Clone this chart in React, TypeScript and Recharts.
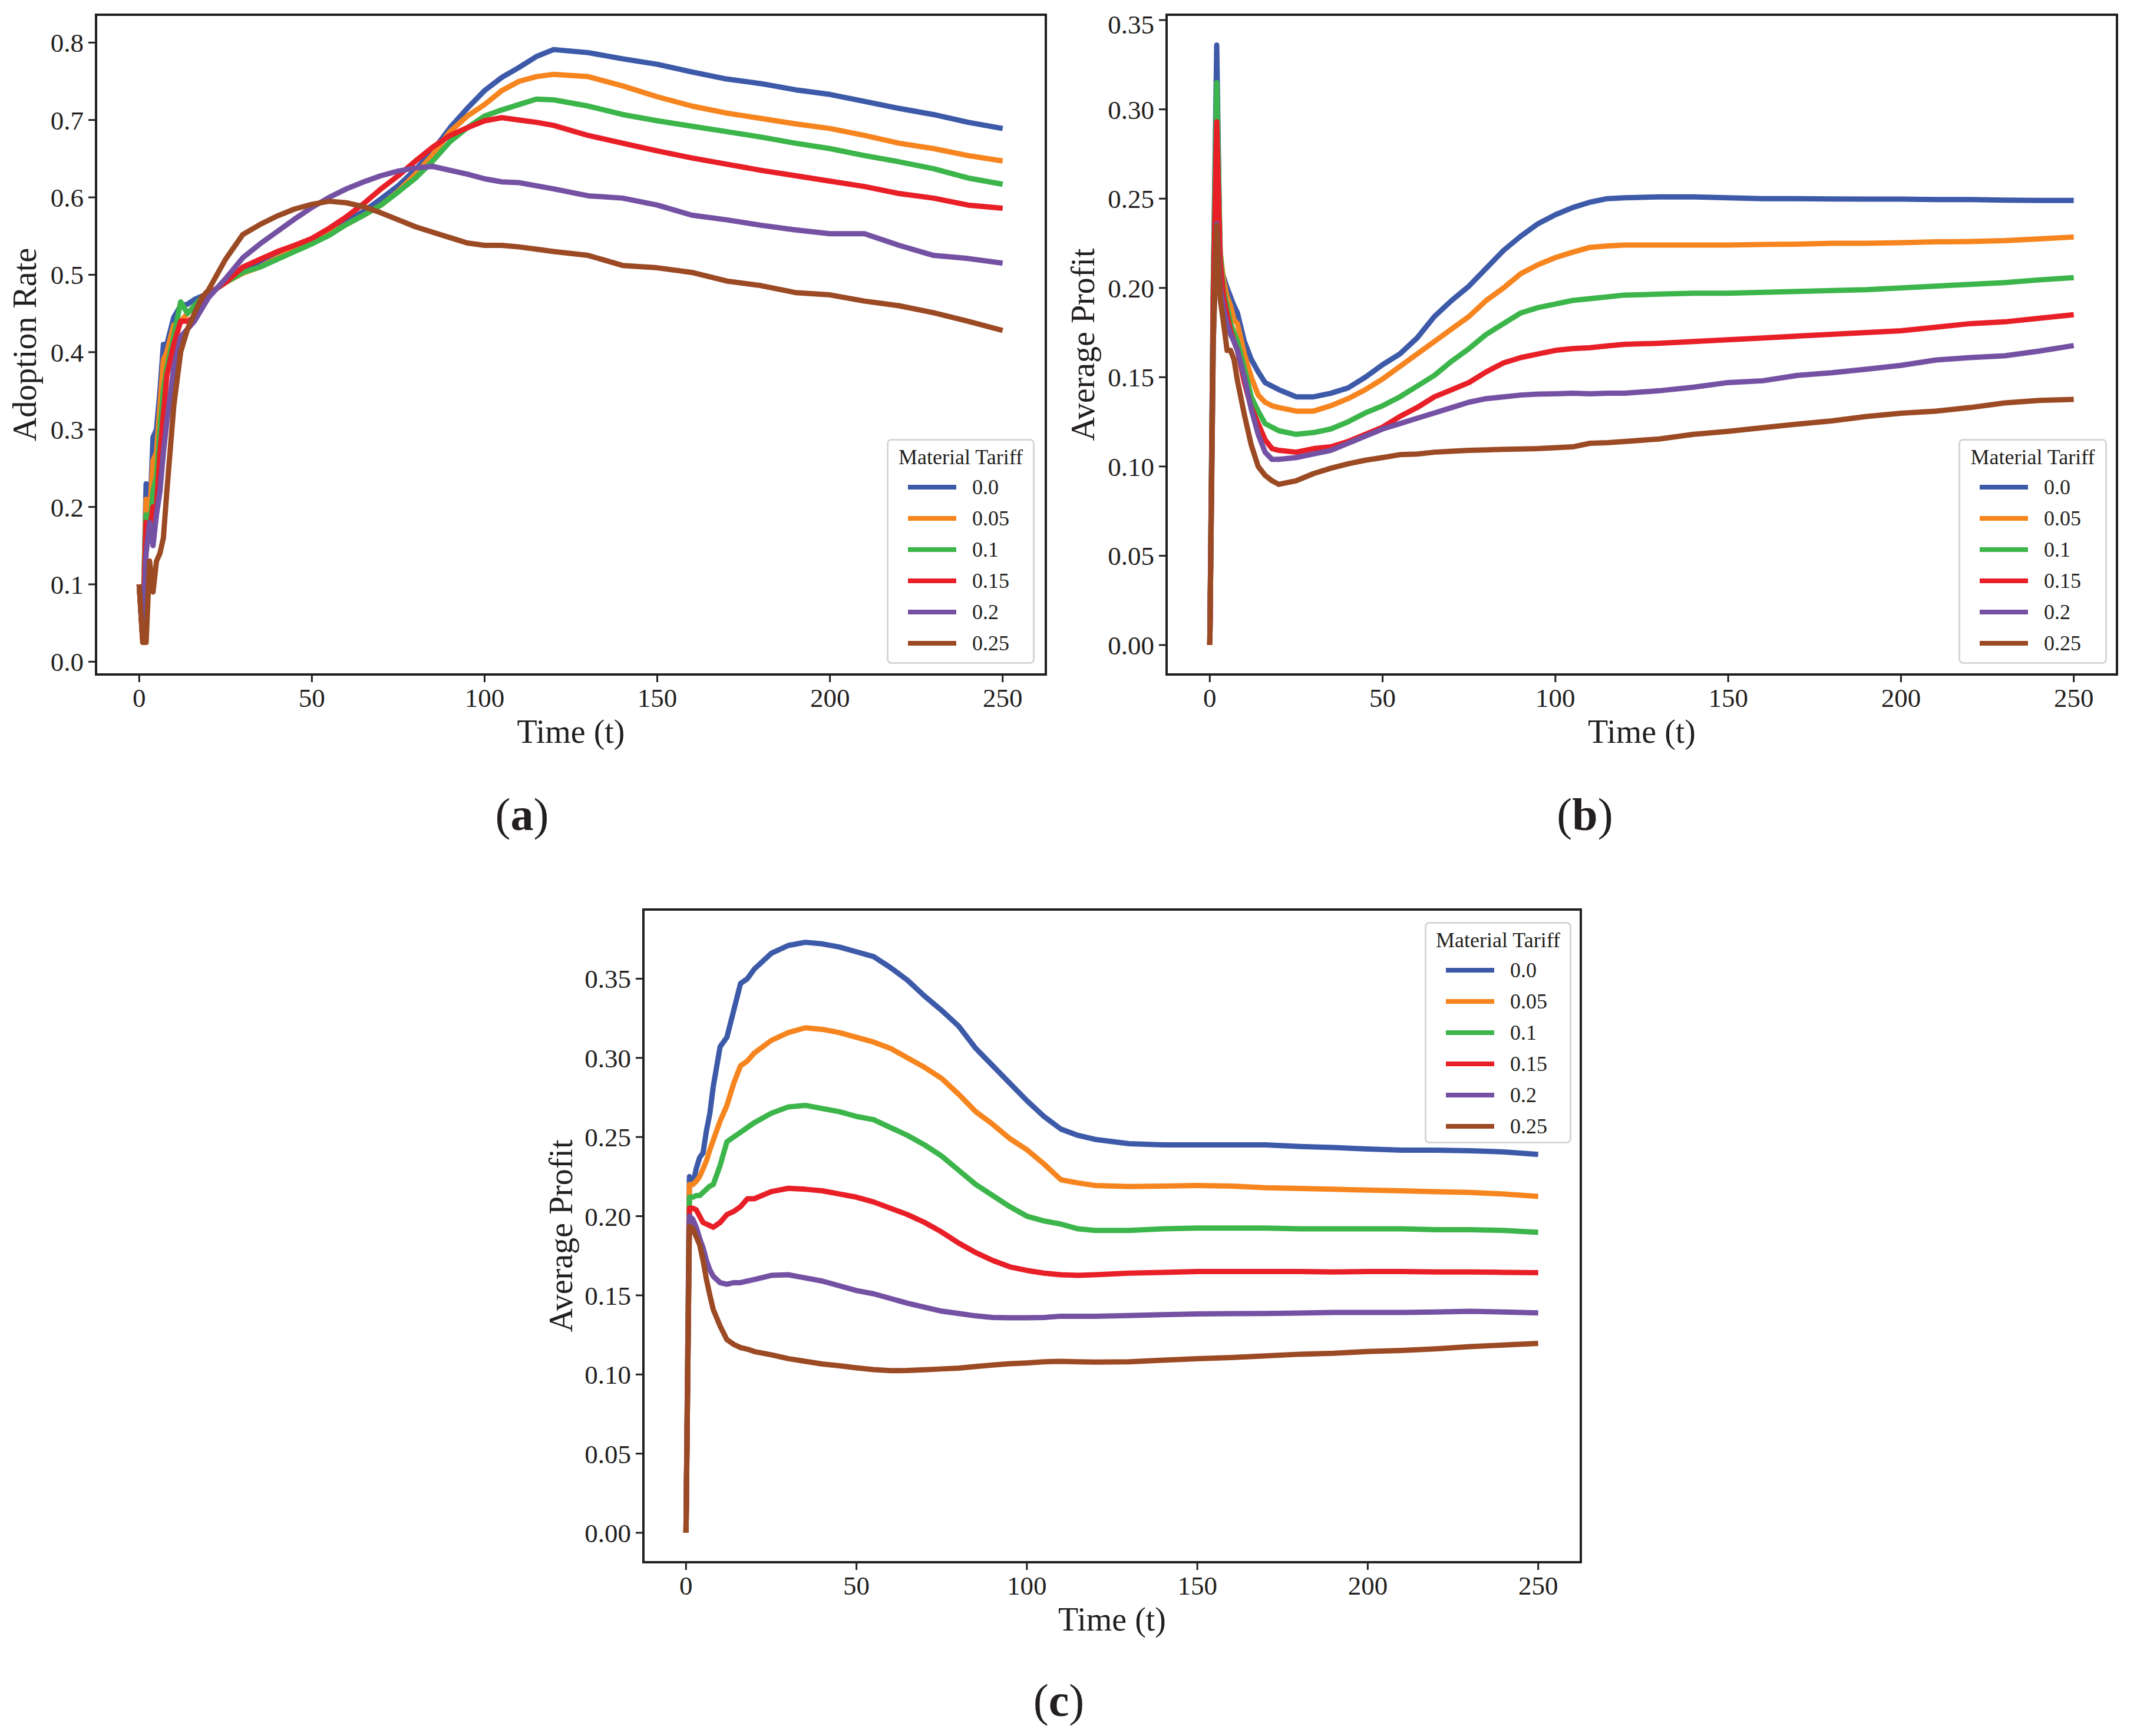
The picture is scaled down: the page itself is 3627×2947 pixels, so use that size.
import { LineChart, Line, XAxis, YAxis, ReferenceArea, Legend } from 'recharts';

// shared time grid (t) used by all three panels
const TIME = [
  0, 1, 2, 3, 4, 5, 6, 7, 8, 10, 12, 14, 16, 18, 20, 25, 30, 35, 40, 45, 50, 55, 60, 65, 70, 75, 80, 85, 90, 95,
  100, 105, 110, 115, 120, 130, 140, 150, 160, 170, 180, 190, 200, 210, 220, 230, 240, 250,
];

const TARIFFS = ['0.0', '0.05', '0.1', '0.15', '0.2', '0.25'];
const COLORS = ['#3d5aa9', '#f7851f', '#3cb54a', '#e81f27', '#7451a3', '#9b4a24'];

const X_TICKS = [0, 50, 100, 150, 200, 250];
const ADOPTION_TICKS = [0, 0.1, 0.2, 0.3, 0.4, 0.5, 0.6, 0.7, 0.8];
const PROFIT_TICKS = [0, 0.05, 0.1, 0.15, 0.2, 0.25, 0.3, 0.35];

// (a) adoption rate
const adoption00 = [
  0.1, 0.03, 0.23, 0.18, 0.29, 0.3, 0.35, 0.41, 0.41, 0.445, 0.46, 0.462, 0.468, 0.472, 0.475, 0.49, 0.505, 0.515,
  0.528, 0.537, 0.546, 0.556, 0.569, 0.582, 0.598, 0.615, 0.636, 0.66, 0.69, 0.715, 0.738, 0.755, 0.768, 0.782, 0.791,
  0.787, 0.779, 0.772, 0.762, 0.753, 0.747, 0.739, 0.733, 0.724, 0.715, 0.707, 0.697, 0.689,
];
const adoption05 = [
  0.1, 0.03, 0.21, 0.19, 0.26, 0.27, 0.33, 0.39, 0.4, 0.435, 0.44, 0.45, 0.46, 0.468, 0.475, 0.49, 0.502, 0.51, 0.522,
  0.532, 0.542, 0.553, 0.565, 0.577, 0.59, 0.608, 0.63, 0.655, 0.685, 0.705, 0.72, 0.738, 0.75, 0.756, 0.759, 0.756,
  0.744, 0.73, 0.718, 0.709, 0.702, 0.695, 0.689, 0.68, 0.67, 0.663, 0.654, 0.647,
];
const adoption10 = [
  0.1, 0.03, 0.19, 0.17, 0.22, 0.24, 0.3, 0.35, 0.38, 0.42, 0.465, 0.45, 0.46, 0.47, 0.475, 0.49, 0.503, 0.51, 0.52,
  0.53, 0.54, 0.551, 0.565, 0.577, 0.59, 0.607, 0.625, 0.647, 0.672, 0.69, 0.705, 0.713, 0.72, 0.727, 0.726, 0.718,
  0.707, 0.699, 0.692, 0.685, 0.678, 0.67, 0.663, 0.654, 0.646, 0.637, 0.625, 0.617,
];
const adoption15 = [
  0.1, 0.03, 0.18, 0.17, 0.2, 0.2, 0.27, 0.32, 0.37, 0.41, 0.44, 0.44, 0.445, 0.46, 0.475, 0.49, 0.51, 0.52, 0.53,
  0.538, 0.547, 0.56, 0.575, 0.592, 0.611, 0.628, 0.647, 0.665, 0.68, 0.69, 0.699, 0.703, 0.7, 0.697, 0.693, 0.68,
  0.67, 0.66, 0.651, 0.643, 0.635, 0.628, 0.621, 0.614, 0.605, 0.599, 0.59, 0.586,
];
const adoption20 = [
  0.1, 0.03, 0.14, 0.18, 0.15, 0.19, 0.22, 0.27, 0.31, 0.38, 0.42, 0.43, 0.44, 0.455, 0.47, 0.495, 0.522, 0.54, 0.556,
  0.572, 0.587, 0.6, 0.611, 0.62, 0.628, 0.634, 0.638, 0.64, 0.635, 0.63, 0.624, 0.62, 0.619, 0.615, 0.611, 0.602,
  0.599, 0.59, 0.577, 0.571, 0.564, 0.558, 0.553, 0.553, 0.538, 0.525, 0.521, 0.515,
];
const adoption25 = [
  0.1, 0.025, 0.025, 0.13, 0.09, 0.13, 0.14, 0.16, 0.22, 0.33, 0.4, 0.43, 0.45, 0.47, 0.48, 0.52, 0.552, 0.565, 0.576,
  0.585, 0.591, 0.595, 0.593, 0.588, 0.58, 0.571, 0.562, 0.555, 0.548, 0.541, 0.538, 0.538, 0.536, 0.533, 0.53, 0.525,
  0.512, 0.509, 0.503, 0.492, 0.486, 0.477, 0.474, 0.466, 0.46, 0.451, 0.44, 0.428,
];

// (b) average profit
const profitB00 = [
  0, 0.2, 0.336, 0.21, 0.206, 0.2, 0.195, 0.19, 0.186, 0.17, 0.16, 0.153, 0.147, 0.145, 0.143, 0.139, 0.139, 0.141,
  0.144, 0.15, 0.157, 0.163, 0.172, 0.184, 0.193, 0.201, 0.211, 0.221, 0.229, 0.236, 0.241, 0.245, 0.248, 0.25, 0.2505,
  0.251, 0.251, 0.2505, 0.25, 0.25, 0.2498, 0.2497, 0.2497, 0.2495, 0.2495, 0.2492, 0.249, 0.249,
];
const profitB05 = [
  0, 0.18, 0.29, 0.22, 0.204, 0.195, 0.19, 0.182, 0.18, 0.163, 0.15, 0.14, 0.136, 0.134, 0.133, 0.131, 0.131, 0.134,
  0.138, 0.143, 0.149, 0.156, 0.163, 0.17, 0.177, 0.184, 0.193, 0.2, 0.208, 0.213, 0.217, 0.22, 0.2227, 0.2235, 0.224,
  0.224, 0.224, 0.224, 0.2243, 0.2245, 0.225, 0.225, 0.2253, 0.2258, 0.226, 0.2265, 0.2275, 0.2285,
];
const profitB10 = [
  0, 0.2, 0.315, 0.22, 0.198, 0.19, 0.18, 0.175, 0.17, 0.155, 0.139, 0.131, 0.124, 0.122, 0.12, 0.118, 0.119, 0.121,
  0.125, 0.13, 0.134, 0.139, 0.145, 0.151, 0.159, 0.166, 0.174, 0.18, 0.186, 0.189, 0.191, 0.193, 0.194, 0.195, 0.196,
  0.1965, 0.197, 0.197, 0.1975, 0.198, 0.1985, 0.199, 0.2, 0.201, 0.202, 0.203, 0.2045, 0.2058,
];
const profitB15 = [
  0, 0.19, 0.293, 0.215, 0.195, 0.185, 0.176, 0.17, 0.165, 0.147, 0.133, 0.124, 0.115, 0.11, 0.109, 0.108, 0.11, 0.111,
  0.114, 0.118, 0.122, 0.128, 0.133, 0.139, 0.143, 0.147, 0.153, 0.158, 0.161, 0.163, 0.165, 0.166, 0.1665, 0.1675,
  0.1684, 0.169, 0.17, 0.171, 0.172, 0.173, 0.174, 0.175, 0.176, 0.178, 0.18, 0.181, 0.183, 0.185,
];
const profitB20 = [
  0, 0.17, 0.236, 0.2, 0.188, 0.18, 0.174, 0.17, 0.165, 0.15, 0.132, 0.118, 0.108, 0.104, 0.104, 0.105, 0.107, 0.109,
  0.113, 0.117, 0.121, 0.124, 0.127, 0.13, 0.133, 0.136, 0.138, 0.139, 0.14, 0.1405, 0.1407, 0.141, 0.1407, 0.141,
  0.141, 0.1424, 0.1444, 0.147, 0.148, 0.151, 0.1525, 0.1545, 0.1566, 0.1596, 0.161, 0.162, 0.1646, 0.1677,
];
const profitB25 = [
  0, 0.17, 0.235, 0.194, 0.18, 0.165, 0.165, 0.16, 0.148, 0.129, 0.112, 0.1, 0.095, 0.092, 0.09, 0.092, 0.096, 0.099,
  0.1015, 0.1035, 0.105, 0.1066, 0.107, 0.108, 0.1085, 0.109, 0.1093, 0.1096, 0.1098, 0.11, 0.1105, 0.111, 0.113,
  0.1133, 0.114, 0.1154, 0.118, 0.1197, 0.1217, 0.1237, 0.1255, 0.128, 0.1298, 0.131, 0.133, 0.1356, 0.137, 0.1376,
];

// (c) average profit
const profitC00 = [
  0, 0.225, 0.22, 0.23, 0.237, 0.24, 0.254, 0.265, 0.282, 0.307, 0.313, 0.33, 0.347, 0.35, 0.356, 0.366, 0.371, 0.373,
  0.372, 0.37, 0.367, 0.364, 0.357, 0.349, 0.339, 0.33, 0.32, 0.306, 0.295, 0.284, 0.273, 0.263, 0.255, 0.251, 0.2485,
  0.2458, 0.245, 0.245, 0.245, 0.245, 0.244, 0.2434, 0.2424, 0.2417, 0.2417, 0.2413, 0.2406, 0.239,
];
const profitC05 = [
  0, 0.22, 0.22, 0.222, 0.225, 0.23, 0.235, 0.242, 0.248, 0.26, 0.27, 0.284, 0.295, 0.298, 0.303, 0.311, 0.316, 0.319,
  0.318, 0.316, 0.313, 0.31, 0.306, 0.3, 0.294, 0.287, 0.277, 0.266, 0.258, 0.249, 0.242, 0.233, 0.223, 0.221, 0.2194,
  0.2187, 0.219, 0.2194, 0.219, 0.218, 0.2175, 0.217, 0.2165, 0.216, 0.2155, 0.215, 0.214, 0.2125,
];
const profitC10 = [
  0, 0.212, 0.212, 0.213, 0.213, 0.215, 0.217, 0.219, 0.22, 0.232, 0.247, 0.25, 0.253, 0.256, 0.259, 0.265, 0.269, 0.27,
  0.268, 0.266, 0.263, 0.261, 0.256, 0.251, 0.245, 0.238, 0.229, 0.22, 0.213, 0.206, 0.2, 0.197, 0.195, 0.192, 0.191,
  0.191, 0.192, 0.1925, 0.1925, 0.1925, 0.192, 0.192, 0.192, 0.192, 0.1915, 0.1915, 0.191, 0.1898,
];
const profitC15 = [
  0, 0.205, 0.205, 0.204, 0.2, 0.196, 0.195, 0.194, 0.193, 0.196, 0.201, 0.203, 0.206, 0.211, 0.211, 0.2155, 0.2176,
  0.217, 0.216, 0.214, 0.212, 0.209, 0.205, 0.201, 0.196, 0.19, 0.183, 0.177, 0.172, 0.168, 0.1657, 0.164, 0.163,
  0.1626, 0.163, 0.164, 0.1645, 0.165, 0.165, 0.165, 0.165, 0.1648, 0.165, 0.165, 0.1648, 0.1648, 0.1645, 0.1643,
];
const profitC20 = [
  0, 0.2, 0.198, 0.193, 0.186, 0.18, 0.172, 0.166, 0.162, 0.158, 0.157, 0.158, 0.158, 0.159, 0.16, 0.1626, 0.163, 0.161,
  0.159, 0.156, 0.153, 0.151, 0.148, 0.145, 0.1425, 0.14, 0.1385, 0.137, 0.136, 0.1358, 0.1358, 0.136, 0.1368, 0.1368,
  0.1368, 0.1372, 0.1378, 0.1382, 0.1384, 0.1385, 0.1388, 0.1392, 0.1392, 0.1392, 0.1395, 0.1399, 0.1395, 0.1389,
];
const profitC25 = [
  0, 0.1935, 0.192, 0.187, 0.182, 0.172, 0.16, 0.15, 0.141, 0.1306, 0.122, 0.119, 0.117, 0.116, 0.1145, 0.1124, 0.11,
  0.1083, 0.1066, 0.1055, 0.1042, 0.1031, 0.1024, 0.1025, 0.103, 0.1035, 0.104, 0.105, 0.106, 0.1068, 0.1073, 0.108,
  0.1083, 0.108, 0.1078, 0.108, 0.109, 0.11, 0.1107, 0.1117, 0.1128, 0.1134, 0.1145, 0.1152, 0.1162, 0.1176, 0.1186,
  0.1196,
];

const INK = '#231f20';
const FONT = "'Liberation Serif', 'Times New Roman', serif";
const X_DOMAIN: [number, number] = [-12.5, 262.5];
const MT = 10;
const MR = 12;
const XH = 140;

function buildRows(series: number[][]) {
  return TIME.map((t, i) => {
    const row: Record<string, number> = { t };
    series.forEach((s, k) => {
      row[`s${k}`] = s[i];
    });
    return row;
  });
}

function LegendBox({ width, height }: { width: number; height: number }) {
  return (
    <div
      style={{
        boxSizing: 'border-box',
        width,
        height,
        border: '3px solid #d6d6d6',
        borderRadius: 8,
        background: 'rgba(255,255,255,0.85)',
        fontFamily: FONT,
        color: INK,
      }}
    >
      <div style={{ height: 52, lineHeight: '56px', fontSize: 36, textAlign: 'center' }}>Material Tariff</div>
      {TARIFFS.map((label, i) => (
        <div key={label} style={{ height: 53, display: 'flex', alignItems: 'center', paddingLeft: 33 }}>
          <div style={{ width: 82, height: 8, background: COLORS[i] }} />
          <div style={{ marginLeft: 27, fontSize: 36, lineHeight: '36px' }}>{label}</div>
        </div>
      ))}
    </div>
  );
}

interface PanelProps {
  plotX: number;
  plotY: number;
  plotW: number;
  plotH: number;
  yAxisW: number;
  data: Record<string, number>[];
  yDomain: [number, number];
  yTicks: number[];
  yDigits: number;
  yLabel: string;
  legend: { x: number; y: number; w: number; h: number };
}

function Panel({ plotX, plotY, plotW, plotH, yAxisW, data, yDomain, yTicks, yDigits, yLabel, legend }: PanelProps) {
  const left = plotX - yAxisW;
  const top = plotY - MT;
  const tickStyle = { fontSize: 45, fill: INK, fontFamily: FONT };
  return (
    <div style={{ position: 'absolute', left, top }}>
      <LineChart
        width={yAxisW + plotW + MR}
        height={MT + plotH + XH}
        data={data}
        margin={{ top: MT, right: MR, left: 0, bottom: 0 }}
      >
        <XAxis
          dataKey='t'
          type='number'
          domain={X_DOMAIN}
          ticks={X_TICKS}
          allowDataOverflow
          axisLine={false}
          tickSize={13}
          tickMargin={10}
          tickLine={{ stroke: INK, strokeWidth: 3 }}
          tick={tickStyle}
          height={XH}
          label={{
            value: 'Time (t)',
            position: 'insideBottom',
            offset: XH - 116,
            fontSize: 56,
            fill: INK,
            fontFamily: FONT,
          }}
        />
        <YAxis
          type='number'
          domain={yDomain}
          ticks={yTicks}
          allowDataOverflow
          axisLine={false}
          tickSize={13}
          tickMargin={8}
          tickLine={{ stroke: INK, strokeWidth: 3 }}
          tick={tickStyle}
          tickFormatter={(v: number) => v.toFixed(yDigits)}
          width={yAxisW}
          label={{
            value: yLabel,
            position: 'center',
            angle: -90,
            fontSize: 56,
            fill: INK,
            fontFamily: FONT,
          }}
        />
        {TARIFFS.map((label, i) => (
          <Line
            key={label}
            type='linear'
            dataKey={`s${i}`}
            name={label}
            stroke={COLORS[i]}
            strokeWidth={9}
            strokeLinejoin='round'
            dot={false}
            activeDot={false}
            isAnimationActive={false}
          />
        ))}
        <ReferenceArea
          x1={X_DOMAIN[0]}
          x2={X_DOMAIN[1]}
          y1={yDomain[0]}
          y2={yDomain[1]}
          fill='none'
          stroke={INK}
          strokeWidth={4}
          ifOverflow='visible'
        />
        <Legend
          layout='vertical'
          align='center'
          verticalAlign='middle'
          wrapperStyle={{ left: legend.x - left, top: legend.y - top, width: legend.w, height: legend.h }}
          content={() => <LegendBox width={legend.w} height={legend.h} />}
        />
      </LineChart>
    </div>
  );
}

function PanelTag({ x, y, letter }: { x: number; y: number; letter: string }) {
  return (
    <div
      style={{
        position: 'absolute',
        left: x,
        top: y,
        transform: 'translate(-50%, -50%)',
        fontFamily: FONT,
        fontSize: 78,
        lineHeight: 1,
        color: INK,
        whiteSpace: 'nowrap',
      }}
    >
      (<b>{letter}</b>)
    </div>
  );
}

export default function App() {
  const rowsA = buildRows([adoption00, adoption05, adoption10, adoption15, adoption20, adoption25]);
  const rowsB = buildRows([profitB00, profitB05, profitB10, profitB15, profitB20, profitB25]);
  const rowsC = buildRows([profitC00, profitC05, profitC10, profitC15, profitC20, profitC25]);
  return (
    <div
      style={{
        position: 'absolute',
        left: 0,
        top: 0,
        width: 3627,
        height: 2947,
        background: '#fff',
        overflow: 'hidden',
      }}
    >
      <Panel
        plotX={163}
        plotY={25}
        plotW={1612}
        plotH={1120}
        yAxisW={244}
        data={rowsA}
        yDomain={[-0.0165, 0.836]}
        yTicks={ADOPTION_TICKS}
        yDigits={1}
        yLabel='Adoption Rate'
        legend={{ x: 1505, y: 745, w: 251, h: 382 }}
      />
      <Panel
        plotX={1980}
        plotY={25}
        plotW={1613}
        plotH={1120}
        yAxisW={286}
        data={rowsB}
        yDomain={[-0.0165, 0.353]}
        yTicks={PROFIT_TICKS}
        yDigits={2}
        yLabel='Average Profit'
        legend={{ x: 3324, y: 745, w: 252, h: 382 }}
      />
      <Panel
        plotX={1092}
        plotY={1544}
        plotW={1591}
        plotH={1108}
        yAxisW={282}
        data={rowsC}
        yDomain={[-0.0186, 0.3937]}
        yTicks={PROFIT_TICKS}
        yDigits={2}
        yLabel='Average Profit'
        legend={{ x: 2418, y: 1565, w: 249, h: 376 }}
      />
      <PanelTag x={886} y={1383} letter='a' />
      <PanelTag x={2690} y={1383} letter='b' />
      <PanelTag x={1797} y={2887} letter='c' />
    </div>
  );
}
